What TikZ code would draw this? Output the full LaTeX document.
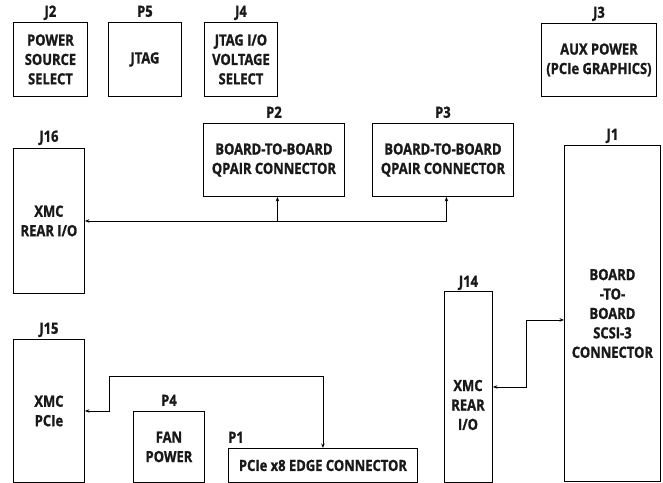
\documentclass[tikz,border=0pt]{standalone}
\usepackage{fontspec}
\setmainfont[FakeStretch=0.84,BoldFeatures={FakeBold=1.2}]{Open Sans}
\usetikzlibrary{arrows.meta,positioning}

\begin{document}
\begin{tikzpicture}[x=1bp,y=-1bp,every node/.style={font=\bfseries\fontsize{15.5}{19.5}\selectfont,text=black!90},
 b/.style={draw,line width=0.9bp,anchor=north west,align=center,inner sep=0pt},
 lab/.style={inner sep=0pt,text depth=0pt},
 arr/.style={{Stealth[length=4.5bp,width=3.5bp]}-{Stealth[length=4.5bp,width=3.5bp]},line width=0.8bp},
 arr1/.style={-{Stealth[length=4.5bp,width=3.5bp]},line width=0.8bp}]
\useasboundingbox (0,0) rectangle (663,483);
% top row
\node[b,minimum width=74bp,minimum height=74bp] (j2) at (13,22) {POWER\\SOURCE\\SELECT};
\node[b,minimum width=73bp,minimum height=74bp] (p5) at (108,22) {JTAG};
\node[b,minimum width=73bp,minimum height=74bp] (j4) at (204,22) {JTAG I/O\\VOLTAGE\\SELECT};
\node[b,minimum width=115bp,minimum height=73bp] (j3) at (541,23) {AUX POWER\\(PCIe GRAPHICS)};
% board-to-board
\node[b,minimum width=141bp,minimum height=73bp] (p2) at (203,123) {BOARD-TO-BOARD\\QPAIR CONNECTOR};
\node[b,minimum width=141bp,minimum height=73bp] (p3) at (372,123) {BOARD-TO-BOARD\\QPAIR CONNECTOR};
\node[b,minimum width=71bp,minimum height=145bp] (j16) at (13,148) {XMC\\REAR I/O};
\node[b,minimum width=96bp,minimum height=336bp] (j1) at (564,145) {BOARD\\-TO-\\BOARD\\SCSI-3\\CONNECTOR};
\node[b,minimum width=48bp,minimum height=191bp] (j14) at (444,291) {};
\node[align=center,inner sep=0pt] (j14t) at (468,405) {XMC\\REAR\\I/O};
% bottom
\node[b,minimum width=71bp,minimum height=143bp] (j15) at (13,339) {XMC\\PCIe};
\node[b,minimum width=71bp,minimum height=71bp] (p4) at (133,411) {FAN\\POWER};
\node[b,minimum width=189bp,minimum height=34bp] (p1) at (228,448) {PCIe x8 EDGE CONNECTOR};
% ref designators
\node[lab,above=5bp of j2] {J2};
\node[lab,above=5bp of p5] {P5};
\node[lab,above=5bp of j4] {J4};
\node[lab,above=5bp of j3] {J3};
\node[lab,above=5bp of p2] {P2};
\node[lab,above=5bp of p3] {P3};
\node[lab,above=6bp of j16] {J16};
\node[lab,above=5bp of j1] {J1};
\node[lab,above=4bp of j14] {J14};
\node[lab,above=5bp of j15] {J15};
\node[lab,above=5bp of p4] {P4};
\node[lab,above right=5bp and 0bp of p1.north west,anchor=south west] {P1};
% links
\draw[arr](j16.east)-|([xshift=3.5bp]p3.south);
\draw[arr1]([xshift=3.5bp]p2.south|-j16.east)--([xshift=3.5bp]p2.south);
\draw[arr](j15.east)--++(24,0)--++(0,-35)-|(p1.north);
\draw[arr](j14.east)--++(33,0)|-([yshift=-6.5bp]j1.west);
\end{tikzpicture}
\end{document}
